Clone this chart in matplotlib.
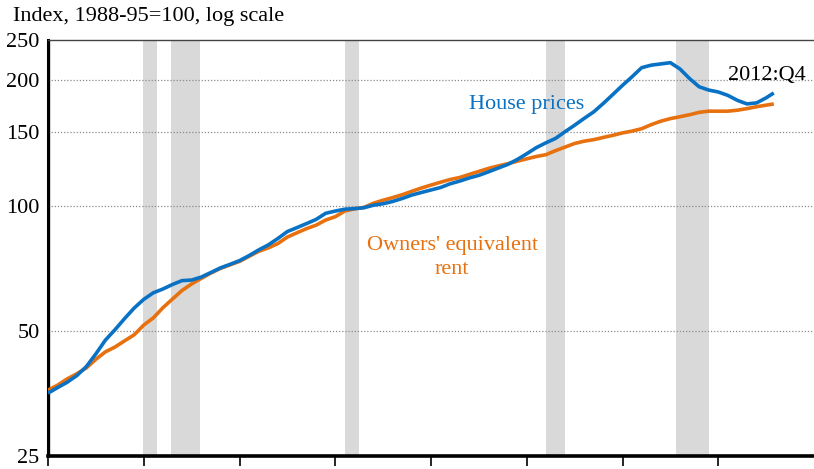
import numpy as np
import matplotlib
matplotlib.use('Agg')
import matplotlib.pyplot as plt
from matplotlib.ticker import FixedLocator, NullLocator

plt.rcParams['font.family'] = ['Liberation Serif', 'DejaVu Serif']

# semi-annual readings, decimal years
dates = [1975.0 + 0.5*i for i in range(76)] + [2012.9]

house_prices = [
    35.4, 36.5, 37.6, 39.0, 41.0, 44.0, 47.5, 50.3, 53.5, 56.7,
    59.5, 61.7, 63.0, 64.6, 66.0, 66.2, 67.3, 69.0, 70.8, 72.2,
    73.7, 75.8, 78.2, 80.4, 83.3, 86.6, 88.5, 90.5, 92.6, 95.8,
    97.0, 98.0, 98.3, 98.8, 100.2, 101.0, 102.3, 104.0, 106.0, 107.5,
    109.0, 110.5, 112.8, 114.5, 116.5, 118.2, 120.5, 123.0, 125.5, 129.0,
    133.2, 137.8, 141.5, 145.0, 150.5, 156.0, 162.0, 168.0, 176.0, 185.0,
    194.5, 204.0, 214.5, 217.5, 219.0, 220.5, 213.0, 202.0, 193.0, 189.5,
    187.5, 184.0, 179.0, 175.5, 176.5, 181.5, 186.5,
]

owners_rent = [
    36.0, 37.0, 38.3, 39.4, 40.7, 42.7, 44.5, 45.7, 47.3, 48.9,
    51.6, 53.7, 56.8, 59.6, 62.5, 64.8, 66.8, 68.8, 70.6, 72.0,
    73.4, 75.5, 77.6, 79.1, 81.0, 84.0, 86.0, 88.0, 89.7, 92.3,
    94.0, 97.0, 98.2, 99.0, 101.3, 103.0, 104.5, 106.2, 108.2, 110.2,
    112.0, 113.8, 115.5, 116.8, 118.8, 120.8, 122.8, 124.5, 126.0, 127.8,
    129.5, 131.2, 132.5, 135.5, 138.2, 141.0, 142.8, 144.0, 145.8, 147.5,
    149.5, 151.0, 153.0, 156.5, 159.5, 161.8, 163.5, 165.3, 167.5, 168.6,
    168.6, 168.6, 169.5, 171.0, 172.8, 174.3, 175.5,
]

recessions = [(1973.9, 1975.15), (1979.96, 1980.69), (1981.42, 1982.93),
              (1990.49, 1991.22), (2001.03, 2002.02), (2007.81, 2009.53)]

y_ticks = [25, 50, 100, 150, 200, 250]
x_ticks = [1975, 1980, 1985, 1990, 1995, 2000, 2005, 2010]

blue = '#0a72c4'
orange = '#e8710f'
fs = 16

fig = plt.figure(figsize=(8.14, 4.69), dpi=100)
ax = fig.add_axes([48/814, 13/469, 766/814, 416/469])

for a, b in recessions:
    ax.axvspan(a, b, color='#d9d9d9', lw=0, zorder=0)

for v in [50, 100, 150, 200]:
    ax.axhline(v, color='#8c8c8c', lw=0.9, ls=(0, (1, 1.5)), zorder=1)

ax.plot(dates, owners_rent, color=orange, lw=2.6, zorder=3, solid_capstyle='butt')
ax.plot(dates, house_prices, color=blue, lw=2.6, zorder=4, solid_capstyle='butt')

ax.set_yscale('log')
ax.set_ylim(25, 250)
ax.set_xlim(1975, 2015)
ax.yaxis.set_major_locator(FixedLocator(y_ticks))
ax.yaxis.set_minor_locator(NullLocator())
ax.set_yticklabels([str(v) for v in y_ticks], fontsize=fs)
ax.tick_params(axis='y', length=0, pad=6)
ax.xaxis.set_major_locator(FixedLocator(x_ticks))
ax.set_xticklabels([])
ax.tick_params(axis='x', direction='out', length=7, width=1.2, color='black')

ax.spines['left'].set_linewidth(2.2)
ax.spines['bottom'].set_linewidth(2.6)
ax.spines['top'].set_linewidth(1.0)
ax.spines['top'].set_color('#444444')
ax.spines['right'].set_visible(False)

fig.text(13/814, 1 - 16/469, 'Index, 1988-95=100, log scale', fontsize=fs,
         va='center', ha='left')

ax.text(2000.0, 170.7, 'House prices', color=blue, fontsize=fs, ha='center', va='baseline')
ax.text(2012.56, 200.3, '2012:Q4', color='black', fontsize=fs, ha='center', va='baseline')
ax.text(1996.15, 78.4, "Owners' equivalent", color=orange, fontsize=fs, ha='center', va='baseline')
ax.text(1996.1, 68.3, 'rent', color=orange, fontsize=fs, ha='center', va='baseline')

fig.savefig('out.png', dpi=100)
